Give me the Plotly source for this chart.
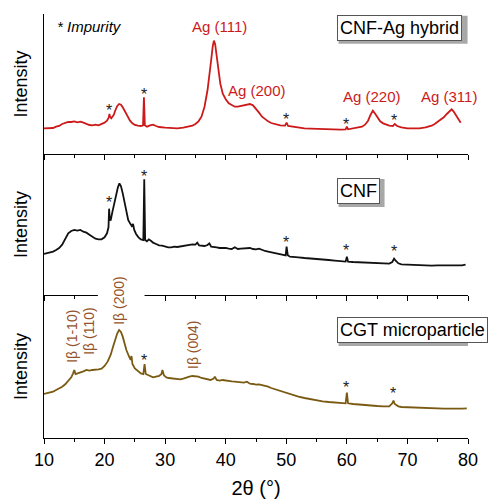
import plotly.graph_objects as go

# ---------------- data (2θ in degrees, intensity in arbitrary units) ----------------
ag_x = [10, 10.5, 11, 11.5, 12, 12.5, 13, 13.5, 14, 14.5, 15, 15.5, 16, 16.5, 17, 17.5, 18, 18.5, 19, 19.5,
        20, 20.4, 20.7, 20.8, 20.9, 21.1, 21.5, 21.8, 22.1, 22.4, 22.7, 23.0, 23.4, 23.8, 24.2, 24.6, 25, 25.5,
        26, 26.35, 26.5, 26.65, 27, 27.5, 28, 28.5, 29, 30, 31, 32, 33, 34, 34.5, 35, 35.5, 36, 36.5, 37, 37.3,
        37.6, 37.85, 38.05, 38.25, 38.5, 38.8, 39.1, 39.5, 40, 40.5, 41, 41.5, 42, 42.5, 43, 43.5, 44, 44.5, 45,
        45.5, 46, 46.5, 47, 47.5, 48, 49, 49.8, 50.05, 50.3, 51, 52, 53, 54, 55, 56, 57, 58, 59, 59.8, 60.0,
        60.2, 61, 62, 62.5, 63, 63.5, 63.9, 64.3, 64.7, 65.1, 65.5, 66, 66.5, 67, 67.6, 67.9, 68.3, 69, 70, 71,
        72, 73, 74, 74.5, 75, 75.5, 76, 76.5, 77.0, 77.3, 77.6, 78, 78.4, 78.8]
ag_y = [77, 78, 79, 78, 82, 84, 90, 94, 96, 96, 98, 95, 97, 94, 90, 87, 86, 88, 86, 90,
        94, 100, 110, 120, 112, 107, 117, 132, 144, 150, 148, 140, 126, 112, 100, 92, 87, 85,
        84, 86, 170, 86, 82, 86, 88, 84, 81, 79, 78, 77, 79, 82, 85, 90, 98, 112, 142, 192, 232,
        282, 322, 340, 330, 297, 247, 212, 182, 164, 152, 146, 142, 142, 144, 146, 148, 150, 146, 136,
        124, 112, 104, 98, 93, 90, 86, 85, 94, 84, 82, 79, 77, 76, 75, 74, 73, 72, 73, 74, 82,
        74, 76, 79, 82, 88, 100, 117, 130, 120, 107, 98, 92, 88, 85, 84, 90, 84, 80, 77, 76,
        77, 80, 85, 90, 96, 102, 110, 120, 130, 134, 128, 117, 104, 94]

cnf_x = [10, 10.5, 11, 11.5, 12, 12.5, 13, 13.5, 14, 14.5, 15, 15.5, 16, 16.5, 17, 17.5, 18, 18.5, 19, 19.5,
         20, 20.4, 20.65, 20.75, 20.85, 21.0, 21.3, 21.6, 21.9, 22.2, 22.45, 22.7, 23.0, 23.3, 23.6, 23.9, 24.2,
         24.5, 24.7, 24.9, 25.2, 25.6, 26.0, 26.4, 26.55, 26.7, 27.0, 27.3, 27.7, 28, 28.5, 29, 29.5, 30, 30.5,
         31, 31.5, 32, 32.5, 33, 33.5, 34, 34.5, 35, 35.3, 35.6, 36, 36.5, 37, 37.3, 37.6, 38, 38.5, 39, 39.5,
         40, 40.5, 41, 41.5, 42, 42.5, 43, 43.5, 44, 44.5, 45, 45.5, 46, 46.5, 47, 47.5, 48, 48.5, 49, 49.5,
         49.9, 50.05, 50.25, 50.6, 51, 52, 53, 54, 55, 56, 57, 58, 59, 59.8, 60.0, 60.2, 61, 62, 63, 64, 65,
         66, 67, 67.5, 67.8, 68.1, 68.5, 69, 70, 71, 72, 73, 74, 75, 76, 77, 78, 79, 79.6]
cnf_y = [123, 125, 127, 130, 135, 141, 151, 169, 185, 192, 195, 193, 195, 190, 187, 181, 175, 169, 167, 167,
         173, 185, 203, 259, 230, 223, 250, 275, 300, 323, 335, 327, 305, 275, 245, 225, 215,
         207, 213, 195, 183, 173, 167, 165, 347, 165, 161, 167, 162, 157, 153, 149, 148, 145, 143,
         143, 145, 144, 146, 147, 150, 150, 152, 151, 157, 149, 149, 147, 150, 155, 145, 145, 143, 141, 142,
         141, 139, 138, 143, 138, 139, 140, 139, 141, 138, 137, 139, 135, 132, 130, 128, 126, 124, 122, 119,
         119, 145, 119, 115, 115, 113, 111, 110, 108, 107, 105, 103, 101, 100, 115, 100, 99, 98, 97, 96, 95,
         95, 94, 99, 109, 102, 95, 92, 91, 90, 90, 89, 88, 89, 89, 88, 88, 89, 91]

cgt_x = [10, 10.5, 11, 11.5, 12, 12.5, 13, 13.5, 14, 14.5, 14.8, 15.0, 15.2, 15.6, 16, 16.5, 17, 17.5, 18, 18.5,
         19, 19.5, 20, 20.5, 21, 21.4, 21.8, 22.1, 22.4, 22.7, 23.0, 23.3, 23.6, 24.0, 24.3, 24.45, 24.6, 25,
         25.5, 26, 26.4, 26.6, 26.8, 27.2, 27.6, 28, 28.5, 29, 29.4, 29.55, 29.8, 30.2, 30.6, 31, 31.5, 32, 32.5,
         33, 33.5, 34, 34.5, 35, 35.5, 36, 36.5, 37, 37.5, 38, 38.2, 38.5, 39, 39.5, 40, 40.5, 41, 41.5, 42,
         42.5, 43, 43.5, 44, 44.5, 45, 45.5, 46, 46.5, 47, 47.5, 48, 48.5, 49, 49.5, 50, 51, 52, 53, 54, 55,
         56, 57, 58, 59, 59.8, 60.0, 60.2, 61, 62, 63, 64, 65, 66, 67, 67.5, 67.7, 67.9, 68.5, 69, 70, 71, 72,
         73, 74, 75, 76, 77, 78, 79, 79.8]
cgt_y = [132, 134, 136, 139, 144, 148, 154, 161, 170, 182, 194, 204, 192, 194, 196, 200, 204, 202, 204, 204,
         206, 208, 216, 229, 249, 274, 299, 314, 324, 318, 304, 284, 264, 246, 234, 246, 222, 209,
         201, 194, 192, 222, 192, 188, 186, 182, 184, 186, 192, 204, 188, 182, 180, 179, 178, 176, 176,
         178, 182, 184, 186, 186, 184, 180, 178, 176, 174, 178, 184, 174, 172, 174, 172, 171, 170, 169, 168,
         167, 166, 169, 163, 162, 160, 161, 159, 157, 154, 150, 147, 144, 141, 137, 134, 129, 124, 120, 116, 113,
         110, 108, 106, 105, 104, 136, 104, 102, 100, 99, 97, 96, 95, 95, 104, 112, 102, 95, 93, 92, 92, 91,
         90, 89, 89, 88, 88, 87, 88, 89]

panel_names = ["CNF-Ag hybrid", "CNF", "CGT microparticle"]
line_colors = ["#cc1a1a", "#111111", "#7a5a12"]
y_ranges = [[0, 420], [0, 423], [0, 429]]

ag_labels = ["Ag (111)", "Ag (200)", "Ag (220)", "Ag (311)"]
ag_label_x = [39.0, 45.1, 64.2, 76.9]
ag_label_y = [382, 192, 172, 174]

ib_labels = ["Iβ (1-10)", "Iβ (110)", "Iβ (200)", "Iβ (004)"]
ib_label_x = [14.6, 17.4, 22.4, 34.6]
ib_label_y = [306, 321, 412, 279]

star_x = [[20.7, 26.5, 50.0, 59.9, 67.8], [20.7, 26.5, 50.0, 59.9, 67.8], [26.5, 59.9, 67.6]]
star_y = [[142, 192, 117, 102, 114], [288, 369, 168, 144, 141], [243, 162, 144]]

box_y = [379, 312, 324]
box_x = 58.3

# ---------------- figure ----------------
FONT = "Liberation Sans, Arial, sans-serif"
fig = go.Figure()
series = [(ag_x, ag_y), (cnf_x, cnf_y), (cgt_x, cgt_y)]
for i, (xs, ys) in enumerate(series):
    fig.add_trace(go.Scatter(x=xs, y=ys, mode="lines", name=panel_names[i],
                             line=dict(color=line_colors[i], width=1.8),
                             xaxis="x" if i == 0 else f"x{i+1}",
                             yaxis="y" if i == 0 else f"y{i+1}",
                             showlegend=False))

# domains: top, middle, bottom
domains = [[0.6698, 1.0], [0.3373, 0.6698], [0.0, 0.3373]]
layout = dict(width=489, height=499, margin=dict(l=44, r=21, t=14, b=61),
              paper_bgcolor="white", plot_bgcolor="white",
              font=dict(family=FONT, color="black"))
for i in range(3):
    xk = "xaxis" if i == 0 else f"xaxis{i+1}"
    yk = "yaxis" if i == 0 else f"yaxis{i+1}"
    yname = "y" if i == 0 else f"y{i+1}"
    xname = "x" if i == 0 else f"x{i+1}"
    layout[xk] = dict(range=[10, 80], anchor=yname, domain=[0, 1], showgrid=False, zeroline=False,
                      showline=True, linecolor="black", linewidth=1.3, automargin=False,
                      ticks="outside", ticklen=5, tickwidth=1.3, tickcolor="black", dtick=10, tick0=10,
                      minor=dict(dtick=5, ticks="outside", ticklen=3, tickwidth=1.3, tickcolor="black"),
                      showticklabels=(i == 2), tickfont=dict(size=18, family=FONT))
    if i != 0:
        layout[xk]["matches"] = "x"
    layout[yk] = dict(range=y_ranges[i], domain=domains[i], anchor=xname, showgrid=False, zeroline=False,
                      showline=True, linecolor="black", linewidth=1.3, ticks="", showticklabels=False,
                      automargin=False,
                      title=dict(text="Intensity", font=dict(size=18, family=FONT), standoff=10))
layout["xaxis3"]["title"] = dict(text="2θ (°)", font=dict(size=20, family=FONT), standoff=20)
fig.update_layout(**layout)

ann = []
ann.append(dict(x=17.5, y=382, xref="x", yref="y", text="<i>* Impurity</i>", showarrow=False,
                font=dict(size=15, family=FONT, color="black")))
for t, xx, yy in zip(ag_labels, ag_label_x, ag_label_y):
    ann.append(dict(x=xx, y=yy, xref="x", yref="y", text=t, showarrow=False,
                    font=dict(size=15, family=FONT, color="#cc1a1a")))
for t, xx, yy in zip(ib_labels, ib_label_x, ib_label_y):
    ann.append(dict(x=xx, y=yy, xref="x3", yref="y3", text=t, showarrow=False, textangle=-90,
                    font=dict(size=14, family=FONT, color="#95532a")))
box_w = [129, 46, 175]
box_h = 28
for i in range(3):
    yr = "y" if i == 0 else f"y{i+1}"
    xr = "x" if i == 0 else f"x{i+1}"
    for xx, yy in zip(star_x[i], star_y[i]):
        ann.append(dict(x=xx, y=yy, xref=xr, yref=yr, text="*", showarrow=False, yshift=-4,
                        font=dict(size=16, family=FONT, color="#222222")))
    ann.append(dict(x=box_x, y=box_y[i], xref=xr, yref=yr, text=panel_names[i], showarrow=False,
                    xanchor="left", bgcolor="white", borderpad=2, bordercolor="#555555", borderwidth=1,
                    font=dict(size=18, family=FONT, color="black")))
    # drop shadow behind the label box
    fig.add_shape(type="rect", xref=xr, yref=yr, xsizemode="pixel", ysizemode="pixel",
                  xanchor=box_x, yanchor=box_y[i], x0=2, x1=box_w[i] + 2,
                  y0=-box_h / 2 - 2, y1=box_h / 2 - 2,
                  fillcolor="#a8a8a8", line=dict(width=0), layer="above")
fig.update_layout(annotations=ann)

# white patch behind the Iβ (200) label, breaking the panel separator
fig.add_shape(type="rect", xref="x3", yref="paper", x0=18.9, x1=26.6, y0=0.30, y1=0.373,
              fillcolor="white", line=dict(width=0), layer="above")

fig.write_html("out.html")
